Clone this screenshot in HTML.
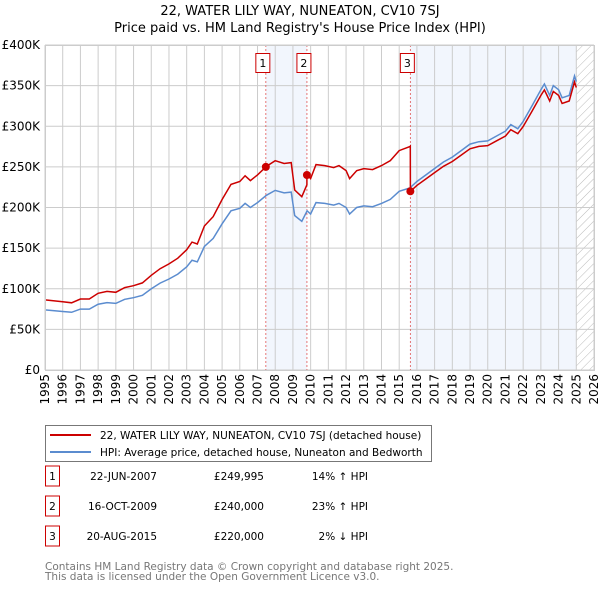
<!DOCTYPE html>
<html><head><meta charset="utf-8"><style>
body{margin:0;background:#fff;}
svg{font-family:"DejaVu Sans","Liberation Sans",sans-serif;}
</style></head><body>
<svg id="chart" width="600" height="590" xmlns="http://www.w3.org/2000/svg">
<defs><pattern id="hatch" width="6" height="6" patternUnits="userSpaceOnUse" patternTransform="rotate(45)"><line x1="0" y1="0" x2="0" y2="6" stroke="#bbb" stroke-width="1"/></pattern></defs>
<text x="300" y="15" text-anchor="middle" font-size="13">22, WATER LILY WAY, NUNEATON, CV10 7SJ</text>
<text x="300" y="32" text-anchor="middle" font-size="13">Price paid vs. HM Land Registry's House Price Index (HPI)</text>
<g id="plot"></g>
<g>
<rect x="45.5" y="425.5" width="386" height="36" fill="#fff" stroke="#777"/>
<line x1="50" y1="435" x2="91" y2="435" stroke="#cc0000" stroke-width="2"/>
<text x="100" y="439" font-size="10.5">22, WATER LILY WAY, NUNEATON, CV10 7SJ (detached house)</text>
<line x1="50" y1="452" x2="91" y2="452" stroke="#5b8ccf" stroke-width="2"/>
<text x="100" y="456" font-size="10.5">HPI: Average price, detached house, Nuneaton and Bedworth</text>
</g>
<g id="table" font-size="10.5"></g>
<text x="45" y="570" font-size="10.5" fill="#777">Contains HM Land Registry data © Crown copyright and database right 2025.</text>
<text x="45" y="580" font-size="10.5" fill="#777">This data is licensed under the Open Government Licence v3.0.</text>
</svg>
<script>
const hpiYears=[1995,1996,1996.5,1997,1997.5,1998,1998.5,1999,1999.5,2000,2000.5,2001,2001.5,2002,2002.5,2003,2003.3,2003.6,2004,2004.5,2005,2005.5,2006,2006.3,2006.6,2007,2007.5,2008,2008.5,2008.9,2009.1,2009.5,2009.8,2010,2010.3,2010.8,2011.3,2011.6,2012,2012.2,2012.6,2013,2013.5,2014,2014.5,2015,2015.6,2016,2016.5,2017,2017.5,2018,2018.5,2019,2019.5,2020,2020.5,2021,2021.3,2021.7,2022,2022.5,2023,2023.2,2023.5,2023.7,2024,2024.2,2024.6,2024.9,2025];
const hpiValues=[74,72,71,75,75,81,83,82,87,89,92,100,107,112,118,127,135,133,152,162,180,196,199,205,200,206,215,221,218,219,190,183,196,192,206,205,203,205,200,192,200,202,201,205,210,220,224,232,240,248,256,262,270,278,281,282,288,294,302,297,306,325,345,352,338,350,345,335,338,362,355];
const saleLabels=["1","2","3"];
const saleDates=[2007.47,2009.79,2015.63];
const saleDateText=["22-JUN-2007","16-OCT-2009","20-AUG-2015"];
const salePrices=[249995,240000,220000];
const salePriceText=["£249,995","£240,000","£220,000"];
const saleHpiText=["14% ↑ HPI","23% ↑ HPI","2% ↓ HPI"];
const yTicks=[0,50,100,150,200,250,300,350,400];
const yTickLabels=["£0","£50K","£100K","£150K","£200K","£250K","£300K","£350K","£400K"];
const xTicks=[1995,1996,1997,1998,1999,2000,2001,2002,2003,2004,2005,2006,2007,2008,2009,2010,2011,2012,2013,2014,2015,2016,2017,2018,2019,2020,2021,2022,2023,2024,2025,2026];
const dataEnd=2025.0;

const NS="http://www.w3.org/2000/svg";
const X0=45,X1=594,Y0=370,Y1=45;
const x=t=>X0+(t-1995)*(X1-X0)/31;
const y=v=>Y0-v*(Y0-Y1)/400;
const g=document.getElementById('plot');
function mk(tag,attrs,parent){const e=document.createElementNS(NS,tag);for(const k in attrs)e.setAttribute(k,attrs[k]);(parent||g).appendChild(e);return e;}
function hpiAt(t){for(let i=1;i<hpiYears.length;i++){if(t<=hpiYears[i]){const f=(t-hpiYears[i-1])/(hpiYears[i]-hpiYears[i-1]);return hpiValues[i-1]+f*(hpiValues[i]-hpiValues[i-1]);}}return hpiValues[hpiValues.length-1];}

let bg=mk('rect',{x:X0,y:Y1,width:X1-X0,height:Y0-Y1,fill:'#fff'});

let s1=mk('rect',{x:x(saleDates[0]),y:Y1,width:x(saleDates[1])-x(saleDates[0]),height:Y0-Y1,fill:'#f2f6fd'});

let s2=mk('rect',{x:x(saleDates[2]),y:Y1,width:x(dataEnd)-x(saleDates[2]),height:Y0-Y1,fill:'#f2f6fd'});

let hz=mk('rect',{x:x(dataEnd),y:Y1,width:X1-x(dataEnd),height:Y0-Y1,fill:'url(#hatch)'});


xTicks.forEach(t=>{
  let l=mk('line',{x1:x(t),x2:x(t),y1:Y1,y2:Y0,stroke:'#ccc','stroke-width':1});
  
  let tx=mk('text',{x:0,y:0,'font-size':12,'text-anchor':'end',transform:`translate(${x(t)+4},${Y0+4}) rotate(-90)`});
  tx.textContent=t;
  
});
yTicks.forEach((v,i)=>{
  let l=mk('line',{x1:X0,x2:X1,y1:y(v),y2:y(v),stroke:'#ccc','stroke-width':1});
  
  let tx=mk('text',{x:X0-5,y:y(v)+4,'font-size':12,'text-anchor':'end'});
  tx.textContent=yTickLabels[i];
  
});
saleDates.forEach((d,i)=>{
  let l=mk('line',{x1:x(d),x2:x(d),y1:Y1,y2:Y0,stroke:'#e05555','stroke-width':0.8,'stroke-dasharray':'2,2'});
  
});
let hp=hpiYears.map((t,i)=>x(t).toFixed(1)+','+y(hpiValues[i]).toFixed(1)).join(' ');
let hl=mk('polyline',{points:hp,fill:'none',stroke:'#5b8ccf','stroke-width':1.5});

const ratios=saleDates.map((d,i)=>salePrices[i]/1000/hpiAt(d));
function ratioAt(t){let r=ratios[0];for(let i=0;i<saleDates.length;i++){if(t>=saleDates[i])r=ratios[i];}return r;}
let pts=[];
let allT=hpiYears.concat(saleDates,saleDates.map(d=>d-0.001)).sort((a,b)=>a-b);
allT.forEach(t=>{pts.push(x(t).toFixed(1)+','+y(hpiAt(t)*ratioAt(t)).toFixed(1));});
let pl=mk('polyline',{points:pts.join(' '),fill:'none',stroke:'#cc0000','stroke-width':1.5});

saleDates.forEach((d,i)=>{
  let c=mk('circle',{cx:x(d),cy:y(salePrices[i]/1000),r:4,fill:'#cc0000'});
  
  let bx=x(d)-10;
  let r=mk('rect',{x:bx,y:53.5,width:14,height:19,fill:'#fff',stroke:'#cc0000'});
  
  let tx=mk('text',{x:bx+7,y:67,'font-size':11,'text-anchor':'middle'});
  tx.textContent=saleLabels[i];
  
});
let ax=mk('rect',{x:X0+0.5,y:Y1+0.5,width:X1-X0,height:Y0-Y1,fill:'none',stroke:'#ccc'});


const tb=document.getElementById('table');
saleLabels.forEach((lab,i)=>{
  const cy=483+i*30;
  let r=mk('rect',{x:45.5,y:cy-17,width:14,height:20,fill:'#fff',stroke:'#cc0000'},tb);
  
  let t0=mk('text',{x:52.5,y:cy-3,'text-anchor':'middle'},tb);t0.textContent=lab;
  
  let t1=mk('text',{x:157,y:cy-3,'text-anchor':'end'},tb);t1.textContent=saleDateText[i];
  
  let t2=mk('text',{x:264,y:cy-3,'text-anchor':'end'},tb);t2.textContent=salePriceText[i];
  
  let t3=mk('text',{x:368,y:cy-3,'text-anchor':'end'},tb);t3.textContent=saleHpiText[i];
  
});
</script>
</body></html>
